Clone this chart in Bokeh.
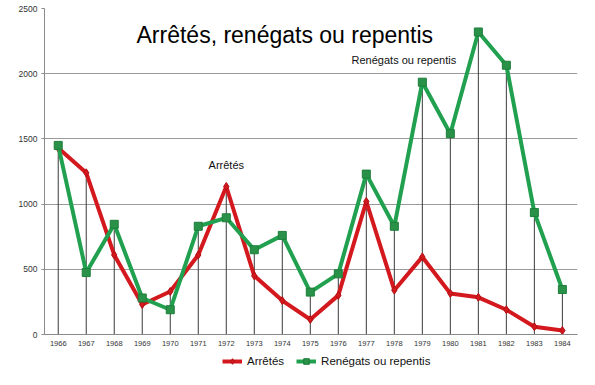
from bokeh.plotting import figure
from bokeh.layouts import column
from bokeh.models import ColumnDataSource, Legend, LegendItem, Label, FixedTicker, Range1d
from bokeh.embed import file_html
from bokeh.resources import INLINE

years = list(range(1966, 1985))
arretes = [1430, 1240, 610, 230, 330, 610, 1135, 450, 260, 115, 300, 1020, 340, 595, 315, 285, 190, 60, 30]
repentis = [1450, 475, 845, 280, 190, 830, 895, 650, 760, 325, 465, 1230, 830, 1935, 1540, 2320, 2065, 935, 345]
y_ticks = [0, 500, 1000, 1500, 2000, 2500]

title_text = "Arrêtés, renégats ou repentis"
name_a = "Arrêtés"
name_r = "Renégats ou repentis"

tops = [max(a, r) for a, r in zip(arretes, repentis)]
zeros = [0] * len(years)
src = ColumnDataSource(dict(x=years, a=arretes, r=repentis, top=tops, z=zeros))

RED = "#d3181e"
GREEN = "#21a04f"
FONT = "Liberation Sans"

p = figure(width=579, height=350, output_backend="svg", toolbar_location=None,
           x_range=Range1d(1965.51, 1984.54), y_range=Range1d(0, 2500),
           min_border_left=44, min_border_right=2, min_border_top=8, min_border_bottom=16)
p.outline_line_color = None
p.background_fill_color = "white"
p.border_fill_color = "white"

# grid
p.xgrid.grid_line_color = None
p.ygrid.grid_line_color = "#9a9a9a"
p.ygrid.grid_line_width = 1

# axes
p.yaxis.ticker = FixedTicker(ticks=y_ticks)
p.xaxis.ticker = FixedTicker(ticks=years)
for ax in (p.xaxis, p.yaxis):
    ax.axis_line_color = "#8a8a8a"
    ax.major_label_text_font = FONT
    ax.major_label_text_color = "#333333"
    ax.minor_tick_line_color = None
p.yaxis.major_label_text_font_size = "8.5px"
p.xaxis.major_label_text_font_size = "7.5px"
p.yaxis.major_tick_line_color = "#8a8a8a"
p.yaxis.major_tick_out = 3
p.yaxis.major_tick_in = 0
p.xaxis.major_tick_line_color = None
p.xaxis.major_tick_out = 0
p.xaxis.major_tick_in = 0
p.yaxis.major_label_standoff = 4
p.xaxis.major_label_standoff = 6

# drop lines
p.segment(x0="x", y0="z", x1="x", y1="top", source=src, line_color="#3a3a3a", line_width=1)

# series
def draw_series(fig):
    la = fig.line("x", "a", source=src, line_color=RED, line_width=4, line_join="round")
    sa = fig.scatter("x", "a", source=src, marker="diamond", size=8, fill_color=RED, line_color="#b01015")
    lr = fig.line("x", "r", source=src, line_color=GREEN, line_width=4, line_join="round")
    sr = fig.scatter("x", "r", source=src, marker="square", size=8, fill_color="#2a9248", line_color="#1d7e3a")
    return la, sa, lr, sr

draw_series(p)

# texts
p.add_layout(Label(x=1974.09, y=2300, text=title_text, text_align="center", text_baseline="middle",
                   text_font=FONT, text_font_size="23px", text_color="#000000"))
p.add_layout(Label(x=1972.0, y=1300, text=name_a, text_align="center", text_baseline="middle",
                   text_font=FONT, text_font_size="11px", text_color="#111111"))
p.add_layout(Label(x=1978.34, y=2105, text=name_r, text_align="center", text_baseline="middle",
                   text_font=FONT, text_font_size="11px", text_color="#111111"))

# legend strip (series drawn out of view, only their legend entries show)
lg = figure(width=579, height=19, output_backend="svg", toolbar_location=None,
            x_range=Range1d(0, 1), y_range=Range1d(0, 1),
            min_border=0, x_axis_type=None, y_axis_type=None)
lg.outline_line_color = None
lg.xgrid.visible = False
lg.ygrid.visible = False
la, sa, lr, sr = draw_series(lg)
legend = Legend(items=[LegendItem(label=name_a, renderers=[la, sa]),
                       LegendItem(label=name_r, renderers=[lr, sr])],
                orientation="horizontal", location=(178, 1),
                label_text_font=FONT, label_text_font_size="11.5px", label_text_color="#111111",
                glyph_width=20, glyph_height=14, label_height=14, spacing=12,
                padding=1, margin=0, border_line_color=None, background_fill_alpha=0)
lg.add_layout(legend)

layout = column(p, lg, spacing=0)
open("out.html", "w").write(file_html(layout, INLINE))
